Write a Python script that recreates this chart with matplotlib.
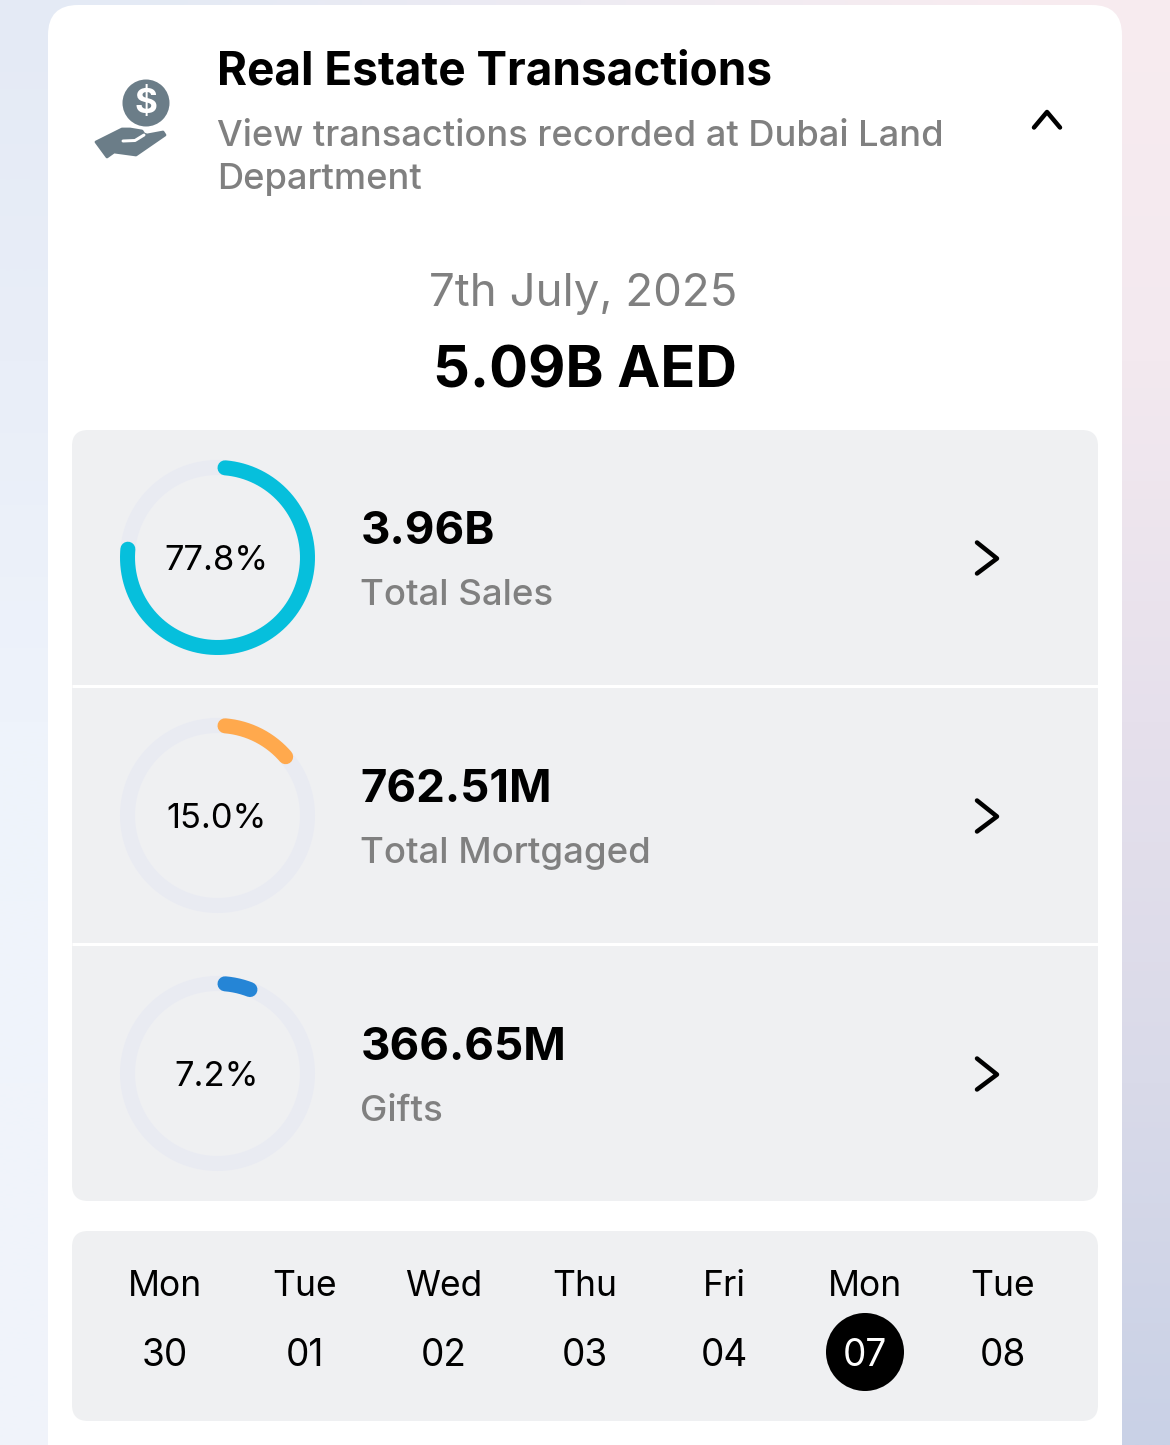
import numpy as np
import matplotlib
matplotlib.use("Agg")
import matplotlib.pyplot as plt
from matplotlib.patches import FancyBboxPatch, Circle, Polygon
from matplotlib.colors import to_rgb

plt.rcParams['font.family'] = ['Inter', 'DejaVu Sans']

TITLE = "Real Estate Transactions"
SUBTITLE = ["View transactions recorded at Dubai Land", "Department"]
DATE = "7th July, 2025"
TOTAL = "5.09B AED"
percents = [77.8, 15.0, 7.2]
amounts = ["3.96B", "762.51M", "366.65M"]
names = ["Total Sales", "Total Mortgaged", "Gifts"]
ring_colors = ["#06BFDC", "#FFA94D", "#2585D6"]
weekdays = ["Mon", "Tue", "Wed", "Thu", "Fri", "Mon", "Tue"]
days = ["30", "01", "02", "03", "04", "07", "08"]
selected = "07"

W, H = 1170, 1445
fig = plt.figure(figsize=(W / 100, H / 100), dpi=100)
ax = fig.add_axes([0, 0, 1, 1])
ax.set_xlim(0, W)
ax.set_ylim(H, 0)
ax.axis("off")
px = 0.72  # pixels -> points


def T(x, y, s, size, color="black", weight="normal", ha="left"):
    ax.text(x, y, s, fontsize=size * px, color=color, fontweight=weight,
            ha=ha, va="center_baseline", zorder=6)


def box(x0, y0, x1, y1, r, color, z=2):
    ax.add_patch(FancyBboxPatch((x0 + r, y0 + r), x1 - x0 - 2 * r, y1 - y0 - 2 * r,
                                boxstyle=f"round,pad={r},rounding_size={r}",
                                fc=color, ec="none", zorder=z))


# background gradient
left = ["#E4EAF5", "#E9EEF8", "#EEF3FB", "#F0F4FB", "#F0F3FA"]
right = ["#F8ECF0", "#F3E9EF", "#E6E0EC", "#D9DAE9", "#C9D1E6"]
grad = np.array([[to_rgb(a), to_rgb(b)] for a, b in zip(left, right)])
ax.imshow(grad, extent=(-290, W + 290, H + 180, -180), aspect="auto",
          interpolation="bilinear", zorder=0)
ax.set_xlim(0, W)
ax.set_ylim(H, 0)

# card
box(48, 5, 1122, 1600, 30, "white", 1)

# header icon
ICON = "#6B7D88"
ax.add_patch(Circle((146, 103), 23.5, fc=ICON, ec="none", zorder=3))
ax.text(145.5, 103.5, "$", fontsize=35 * px, color="white", fontweight="bold",
        ha="center", va="center", zorder=4)
hand = [(96, 142), (122, 129), (130, 129), (142, 131), (144, 134), (147, 135),
        (163, 132), (165, 135), (136, 155), (114, 152), (107, 157)]
ax.add_patch(Polygon(hand, closed=True, fc=ICON, ec=ICON, lw=2, joinstyle="round", zorder=3))
ax.plot([123, 135, 144], [141, 140.5, 135], color="white", lw=3 * px,
        solid_capstyle="round", zorder=4)

# header text
T(217, 67.5, TITLE, 45.9, weight="bold")
T(217, 132.5, SUBTITLE[0], 36.25, color="#808080", weight="medium")
T(217, 175.5, SUBTITLE[1], 36.25, color="#808080", weight="medium")
ax.plot([1034, 1047, 1060], [127.5, 112, 127.5], color="black", lw=4.5 * px,
        solid_capstyle="round", solid_joinstyle="round", zorder=5)

T(583, 289.5, DATE, 45.6, color="#808080", ha="center")
T(585, 366, TOTAL, 57.7, weight="bold", ha="center")

# metric panel
box(72, 430, 1098, 1201, 16, "#EFF0F2")
for y in (686, 944):
    ax.plot([72, 1098], [y, y], color="white", lw=3 * px, zorder=3, solid_capstyle="butt")

row_y = [557.5, 815.5, 1073.5]
R = 90
CAP_DEG = np.degrees(7.5 / R)  # round caps stay inside the arc's sweep
for cy, pct, amt, name, col in zip(row_y, percents, amounts, names, ring_colors):
    th = np.radians(np.linspace(0, 360, 361))
    ax.plot(217.5 + R * np.sin(th), cy - R * np.cos(th), color="#E9EBF2", lw=15 * px, zorder=3)
    th = np.radians(np.linspace(CAP_DEG, 360 * pct / 100 - CAP_DEG, 300))
    ax.plot(217.5 + R * np.sin(th), cy - R * np.cos(th), color=col, lw=15 * px,
            solid_capstyle="round", zorder=4)
    T(216.5, cy, f"{pct:.1f}%", 34.5, ha="center")
    T(360.5, cy - 30, amt, 45.6, weight="bold")
    T(360.5, cy + 34.5, name, 36.6, color="#808080", weight="medium")
    ax.plot([977, 997, 977], [cy - 15, cy + 1, cy + 16], color="black", lw=4.5 * px,
            solid_capstyle="round", solid_joinstyle="round", zorder=5)

# calendar panel
box(72, 1231, 1098, 1421, 16, "#EFF0F2")
xs = np.array([165, 305, 444, 585, 724, 865, 1003])
for x, wd, d in zip(xs, weekdays, days):
    T(x, 1283.5, wd, 35.5, ha="center")
    sel = d == selected
    if sel:
        ax.add_patch(Circle((x, 1352), 39, fc="black", ec="none", zorder=5))
    T(x, 1352.5, d, 37, color="white" if sel else "black", ha="center")

fig.savefig("out.png", dpi=100)
